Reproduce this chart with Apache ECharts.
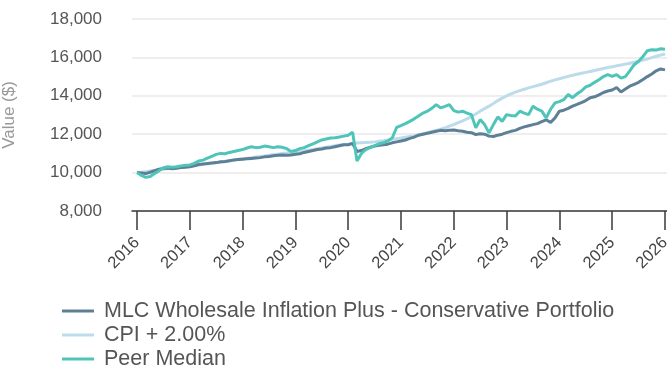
<!DOCTYPE html>
<html>
<head>
<meta charset="utf-8">
<script src="https://cdn.jsdelivr.net/npm/echarts@6/dist/echarts.min.js"></script>
<style>html,body{margin:0;padding:0;background:#fff;}#c{width:667px;height:370px;}</style>
</head>
<body>
<div id="c"></div>
<script>
var startYear = 2016;
var yearTicks = [2016, 2017, 2018, 2019, 2020, 2021, 2022, 2023, 2024, 2025, 2026];
var seriesNames = ['MLC Wholesale Inflation Plus - Conservative Portfolio', 'CPI + 2.00%', 'Peer Median'];

var portfolio = [
  10000, 9980, 9950, 10020, 10100, 10180, 10220, 10240, 10200, 10230, 10260, 10280,
  10300, 10350, 10420, 10450, 10480, 10500, 10520, 10560, 10580, 10620, 10660, 10680,
  10700, 10720, 10740, 10760, 10780, 10820, 10840, 10880, 10900, 10920, 10900, 10920,
  10950, 10980, 11050, 11100, 11150, 11200, 11230, 11280, 11300, 11350, 11400, 11450,
  11450, 11520, 11100, 11150, 11250, 11320, 11380, 11420, 11450, 11480, 11550, 11600,
  11650, 11700, 11780, 11850, 11950, 12000, 12050, 12100, 12150, 12200, 12180, 12200,
  12220, 12180, 12150, 12100, 12080, 11980, 12020, 12000, 11900, 11880, 11950, 12000,
  12080, 12150, 12200, 12300, 12380, 12440, 12500, 12550, 12650, 12750, 12610, 12850,
  13200, 13250, 13350, 13460, 13550, 13650, 13750, 13900, 13950, 14050, 14170, 14250,
  14300, 14430, 14200, 14350, 14500, 14600, 14700, 14850, 15000, 15140, 15300, 15400,
  15350
];
var cpi = [
  10000, 10020, 10050, 10080, 10110, 10140, 10170, 10200, 10230, 10260, 10290, 10310,
  10330, 10360, 10390, 10420, 10450, 10480, 10510, 10540, 10570, 10610, 10650, 10690,
  10720, 10750, 10780, 10810, 10840, 10870, 10900, 10930, 10960, 10990, 11020, 11050,
  11080, 11110, 11140, 11170, 11200, 11240, 11280, 11320, 11360, 11400, 11440, 11460,
  11480, 11510, 11540, 11560, 11570, 11580, 11600, 11630, 11660, 11700, 11740, 11770,
  11800, 11840, 11880, 11920, 11970, 12020, 12080, 12140, 12200, 12260, 12330, 12420,
  12500, 12600, 12700, 12800, 12920, 13050, 13200, 13330, 13460, 13600, 13750, 13880,
  14000, 14100, 14190, 14270, 14340, 14410, 14480, 14540, 14600, 14680, 14760, 14830,
  14890, 14950, 15010, 15070, 15120, 15170, 15220, 15270, 15320, 15370, 15420, 15470,
  15510, 15560, 15600, 15650, 15700, 15750, 15800, 15860, 15920, 15990, 16060, 16120,
  16180
];
var peer = [
  10000, 9850, 9750, 9800, 9950, 10100, 10250, 10300, 10280, 10300, 10350, 10380,
  10400, 10480, 10600, 10650, 10750, 10850, 10950, 11000, 10980, 11050, 11100, 11150,
  11200, 11280, 11350, 11300, 11320, 11380, 11350, 11300, 11350, 11320, 11250, 11100,
  11150, 11250, 11300, 11400, 11500, 11600, 11700, 11750, 11800, 11820, 11850, 11900,
  11950, 12100, 10600, 11000, 11200, 11300, 11400, 11500, 11550, 11650, 11800, 12350,
  12450, 12550, 12670, 12800, 12950, 13100, 13200, 13350, 13540, 13370, 13450, 13540,
  13230, 13150, 13200, 13100, 13020, 12330, 12760, 12500, 12070, 12500, 12900, 12670,
  13020, 12970, 12950, 13200, 13100, 13020, 13460, 13300, 13200, 12850, 13300, 13630,
  13700, 13800, 14070, 13900, 14100, 14250, 14460, 14550, 14700, 14840, 15000, 15100,
  15010, 15100, 14920, 15000, 15300, 15620, 15800, 16050, 16350, 16400, 16380, 16450,
  16430
];

function toPairs(arr) {
  return arr.map(function (v, i) { return [startYear + i / 12, v]; });
}

var colors = ['#5d8097', '#bcdcec', '#4fc4b9'];
var FONT = 'Liberation Sans, Arial, sans-serif';

var chart = echarts.init(document.getElementById('c'), null, {renderer: 'canvas'});
chart.setOption({
  animation: false,
  color: colors,
  grid: {left: 132, right: 0, top: 19, bottom: 159, containLabel: false, outerBoundsMode: 'none'},
  xAxis: {
    type: 'value',
    min: 2015.905,
    max: 2026.038,
    splitLine: {show: false},
    axisLine: {show: true, onZero: false, lineStyle: {color: '#3a3a3a', width: 1.5}},
    axisTick: {show: true, customValues: yearTicks, length: 19, lineStyle: {color: '#3a3a3a', width: 1.5}},
    axisLabel: {
      customValues: yearTicks,
      rotate: 45,
      margin: 29,
      fontSize: 16.5,
      color: '#444',
      fontFamily: FONT,
      hideOverlap: false,
      formatter: function (v) { return String(Math.round(v)); }
    }
  },
  yAxis: {
    type: 'value',
    min: 8000,
    max: 18000,
    interval: 2000,
    name: 'Value ($)',
    nameLocation: 'middle',
    nameGap: 114,
    nameTextStyle: {color: '#999', fontSize: 17, fontFamily: FONT},
    axisLine: {show: false},
    axisTick: {show: false},
    splitLine: {lineStyle: {color: '#e8e8e8', width: 1.5}},
    axisLabel: {
      margin: 30,
      fontSize: 17,
      color: '#555',
      fontFamily: FONT,
      formatter: function (v) { return v.toLocaleString('en-US'); }
    }
  },
  legend: {
    orient: 'vertical',
    left: 62,
    top: 299,
    height: 90,
    padding: 0,
    itemWidth: 32,
    itemHeight: 14,
    itemGap: 0,
    icon: 'path://M0,5.5 L32,5.5 L32,8.5 L0,8.5 Z',
    textStyle: {fontSize: 21.5, color: '#555', fontFamily: FONT, lineHeight: 24, padding: [0, 0, 0, 5]},
    data: seriesNames
  },
  series: [
    {name: seriesNames[1], type: 'line', data: toPairs(cpi), showSymbol: false, symbol: 'none', itemStyle: {color: colors[1]}, lineStyle: {width: 3, color: colors[1]}, z: 2},
    {name: seriesNames[0], type: 'line', data: toPairs(portfolio), showSymbol: false, symbol: 'none', itemStyle: {color: colors[0]}, lineStyle: {width: 3, color: colors[0]}, z: 3},
    {name: seriesNames[2], type: 'line', data: toPairs(peer), showSymbol: false, symbol: 'none', itemStyle: {color: colors[2]}, lineStyle: {width: 3, color: colors[2]}, z: 4}
  ]
});
</script>
</body>
</html>
